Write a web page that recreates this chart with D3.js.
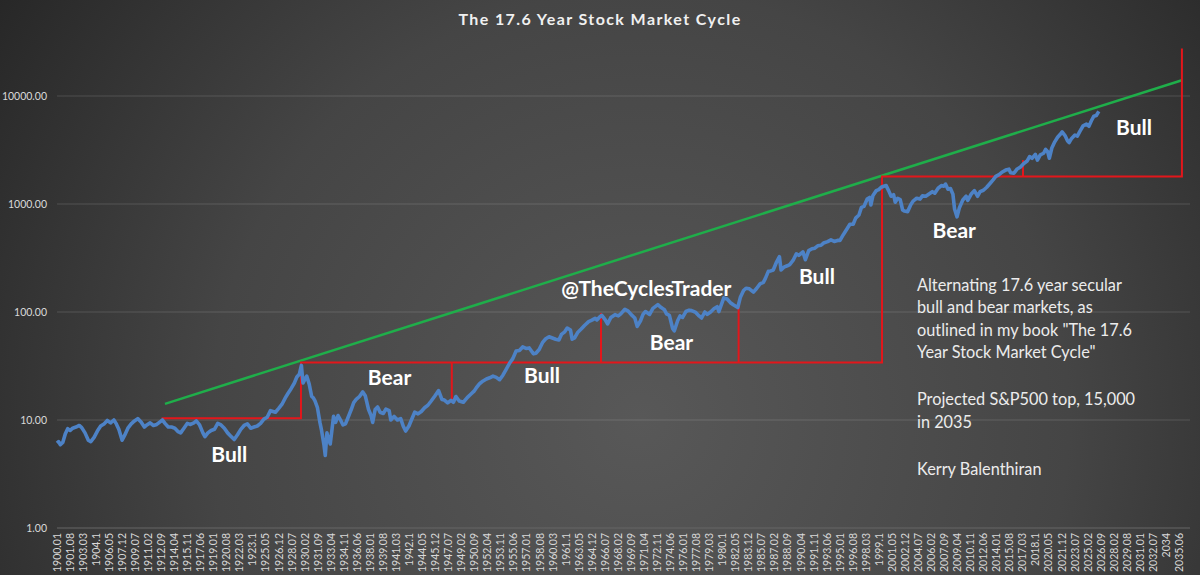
<!DOCTYPE html>
<html>
<head>
  <meta charset="utf-8">
  <script src="https://d3js.org/d3.v7.min.js"></script>
  <style>
    body { margin: 0; background: #333; }
    svg { display: block; font-family: Lato, "Open Sans", sans-serif; }
    .tick-label { fill: #d9d9d9; font-size: 10.5px; }
    .phase { fill: #ffffff; font-weight: bold; font-size: 21px; }
    .blurb { fill: #ececec; font-size: 16.3px; }
  </style>
</head>
<body>
<script>
  // category labels of the x axis (every 19th month, as Excel shows them)
  var xLabels = ["1900.01","1901.08","1903.03","1904.1","1906.05","1907.12","1909.07","1911.02","1912.09","1914.04",
    "1915.11","1917.06","1919.01","1920.08","1922.03","1923.1","1925.05","1926.12","1928.07","1930.02",
    "1931.09","1933.04","1934.11","1936.06","1938.01","1939.08","1941.03","1942.1","1944.05","1945.12",
    "1947.07","1949.02","1950.09","1952.04","1953.11","1955.06","1957.01","1958.08","1960.03","1961.1",
    "1963.05","1964.12","1966.07","1968.02","1969.09","1971.04","1972.11","1974.06","1976.01","1977.08",
    "1979.03","1980.1","1982.05","1983.12","1985.07","1987.02","1988.09","1990.04","1991.11","1993.06",
    "1995.01","1996.08","1998.03","1999.1","2001.05","2002.12","2004.07","2006.02","2007.09","2009.04",
    "2010.11","2012.06","2014.01","2015.08","2017.03","2018.1","2020.05","2021.12","2023.07","2025.02",
    "2026.09","2028.02","2029.08","2031.01","2032.07","2034","2035.06"];

  var yTicks = [1, 10, 100, 1000, 10000];

  // S&P 500 (log scale), [decimal year, value]
  var spx = [
    [1900.0,6.1],[1900.2,6.3],[1900.4,5.9],[1900.7,6.2],[1901.0,7.4],[1901.3,8.3],[1901.6,8.0],[1901.9,8.4],
    [1902.3,8.6],[1902.7,8.9],[1903.0,8.5],[1903.4,7.6],[1903.8,6.5],[1904.1,6.3],[1904.5,6.9],[1904.9,7.9],
    [1905.3,8.8],[1905.7,9.2],[1906.1,9.9],[1906.5,9.4],[1906.9,10.0],[1907.2,9.2],[1907.5,8.2],[1907.9,6.5],
    [1908.2,7.2],[1908.6,8.4],[1909.0,9.2],[1909.4,9.8],[1909.8,10.3],[1910.2,9.6],[1910.6,8.6],[1910.9,9.0],
    [1911.3,9.4],[1911.7,8.9],[1912.1,9.1],[1912.5,9.6],[1912.8,10.0],[1913.1,9.3],[1913.5,8.6],[1913.9,8.6],
    [1914.3,8.4],[1914.7,7.8],[1915.0,7.6],[1915.4,8.4],[1915.8,9.3],[1916.2,9.1],[1916.6,9.4],[1916.9,9.8],
    [1917.3,9.0],[1917.7,7.6],[1917.95,7.0],[1918.3,7.6],[1918.7,8.0],[1919.1,8.2],[1919.5,9.3],[1919.9,9.0],
    [1920.3,8.4],[1920.7,7.6],[1921.0,7.2],[1921.5,6.6],[1921.9,7.3],[1922.3,8.2],[1922.7,8.9],[1923.1,9.2],
    [1923.5,8.4],[1923.9,8.6],[1924.3,8.8],[1924.7,9.3],[1925.1,10.2],[1925.5,10.6],[1925.9,12.2],[1926.2,12.0],
    [1926.5,11.8],[1926.9,12.8],[1927.3,14.0],[1927.7,16.0],[1928.0,17.5],[1928.4,19.5],[1928.8,22.0],[1929.1,25.0],
    [1929.4,26.5],[1929.65,32.0],[1929.85,22.0],[1930.1,24.0],[1930.3,25.5],[1930.6,21.5],[1930.9,16.5],[1931.1,16.0],
    [1931.3,15.0],[1931.6,13.0],[1931.9,9.5],[1932.1,8.0],[1932.4,5.8],[1932.55,4.7],[1932.75,7.6],[1932.95,6.6],
    [1933.15,6.0],[1933.35,8.0],[1933.55,10.8],[1933.8,9.5],[1934.1,11.0],[1934.4,10.0],[1934.7,9.0],[1935.0,9.2],
    [1935.3,10.5],[1935.7,12.5],[1936.0,14.5],[1936.3,15.5],[1936.7,16.5],[1937.1,18.2],[1937.4,16.8],[1937.8,12.5],
    [1938.1,11.0],[1938.3,9.5],[1938.6,12.5],[1938.9,13.2],[1939.2,11.8],[1939.6,11.5],[1939.9,12.6],[1940.3,12.2],
    [1940.5,10.0],[1940.9,10.8],[1941.3,10.0],[1941.7,10.3],[1942.0,8.8],[1942.3,7.9],[1942.7,8.8],[1943.0,10.0],
    [1943.4,11.8],[1943.8,11.4],[1944.2,12.0],[1944.6,13.0],[1945.0,13.7],[1945.4,15.0],[1945.8,16.5],[1946.3,18.7],
    [1946.7,15.5],[1947.0,15.3],[1947.4,14.4],[1947.8,15.2],[1948.1,14.6],[1948.4,16.5],[1948.8,15.0],[1949.3,14.6],
    [1949.8,16.2],[1950.2,17.3],[1950.6,18.5],[1950.9,20.0],[1951.3,21.8],[1951.7,23.0],[1952.1,24.0],[1952.5,24.6],
    [1952.9,25.5],[1953.3,24.8],[1953.7,23.6],[1954.1,26.0],[1954.5,29.5],[1954.9,33.5],[1955.3,37.0],[1955.7,43.5],
    [1956.1,44.0],[1956.5,47.5],[1956.9,46.0],[1957.3,46.5],[1957.8,41.0],[1958.1,41.5],[1958.5,45.0],[1958.9,52.0],
    [1959.3,56.5],[1959.7,59.0],[1960.1,57.5],[1960.5,56.0],[1960.9,55.0],[1961.2,62.0],[1961.6,65.5],[1961.9,71.0],
    [1962.3,68.0],[1962.5,56.0],[1962.8,57.5],[1963.2,65.0],[1963.6,69.5],[1964.0,75.0],[1964.5,81.5],[1964.9,84.0],
    [1965.3,87.5],[1965.5,84.5],[1965.9,91.0],[1966.1,93.0],[1966.5,85.0],[1966.8,77.5],[1967.2,89.0],[1967.7,94.5],
    [1968.1,92.0],[1968.4,96.0],[1968.9,106.0],[1969.3,102.0],[1969.7,94.0],[1970.1,88.0],[1970.4,73.5],[1970.8,83.0],
    [1971.1,95.0],[1971.4,101.0],[1971.9,95.0],[1972.3,108.0],[1972.9,117.0],[1973.3,110.0],[1973.7,105.0],[1973.95,96.0],
    [1974.3,93.0],[1974.7,70.0],[1974.9,67.0],[1975.3,83.0],[1975.6,92.0],[1975.9,89.0],[1976.3,101.0],[1976.7,104.0],
    [1977.0,103.0],[1977.5,99.0],[1977.9,92.0],[1978.2,88.0],[1978.6,100.0],[1978.9,95.0],[1979.3,100.0],[1979.7,107.0],
    [1980.1,112.0],[1980.3,101.0],[1980.9,135.0],[1981.3,132.0],[1981.7,122.0],[1982.1,116.0],[1982.6,110.0],[1982.9,136.0],
    [1983.3,158.0],[1983.6,166.0],[1984.0,164.0],[1984.5,153.0],[1984.9,166.0],[1985.3,182.0],[1985.7,188.0],[1985.95,205.0],
    [1986.3,238.0],[1986.6,240.0],[1986.9,245.0],[1987.3,290.0],[1987.65,325.0],[1987.85,245.0],[1988.2,260.0],[1988.6,268.0],
    [1988.9,275.0],[1989.3,300.0],[1989.7,345.0],[1990.0,335.0],[1990.5,360.0],[1990.8,305.0],[1991.2,370.0],[1991.6,385.0],
    [1991.95,390.0],[1992.3,410.0],[1992.7,415.0],[1993.0,435.0],[1993.5,448.0],[1993.9,465.0],[1994.3,450.0],[1994.7,460.0],
    [1995.0,460.0],[1995.4,520.0],[1995.8,580.0],[1996.2,650.0],[1996.6,650.0],[1996.9,740.0],[1997.3,790.0],[1997.6,930.0],
    [1997.9,950.0],[1998.3,1110.0],[1998.6,1150.0],[1998.75,980.0],[1999.0,1200.0],[1999.4,1330.0],[1999.7,1360.0],[2000.0,1430.0],
    [2000.3,1460.0],[2000.6,1480.0],[2000.9,1330.0],[2001.2,1180.0],[2001.5,1220.0],[2001.7,1040.0],[2002.0,1130.0],[2002.3,1100.0],
    [2002.6,880.0],[2002.8,860.0],[2003.2,850.0],[2003.6,990.0],[2003.9,1070.0],[2004.3,1130.0],[2004.7,1110.0],[2005.0,1190.0],
    [2005.4,1180.0],[2005.8,1240.0],[2006.2,1300.0],[2006.5,1260.0],[2006.9,1400.0],[2007.3,1480.0],[2007.6,1460.0],[2007.8,1530.0],
    [2008.1,1370.0],[2008.4,1390.0],[2008.7,1230.0],[2008.9,900.0],[2009.2,760.0],[2009.5,930.0],[2009.9,1090.0],[2010.3,1180.0],
    [2010.5,1080.0],[2010.9,1230.0],[2011.3,1330.0],[2011.7,1180.0],[2012.0,1300.0],[2012.4,1340.0],[2012.8,1430.0],[2013.2,1550.0],
    [2013.6,1680.0],[2013.9,1800.0],[2014.3,1870.0],[2014.7,1980.0],[2015.1,2060.0],[2015.5,2100.0],[2015.7,1950.0],[2016.1,1930.0],
    [2016.5,2110.0],[2016.9,2200.0],[2017.3,2370.0],[2017.7,2500.0],[2018.0,2750.0],[2018.3,2650.0],[2018.7,2880.0],[2018.95,2550.0],
    [2019.3,2850.0],[2019.7,2950.0],[2019.95,3200.0],[2020.2,3050.0],[2020.4,2650.0],[2020.7,3300.0],[2021.0,3700.0],[2021.4,4150.0],
    [2021.7,4400.0],[2021.95,4650.0],[2022.3,4300.0],[2022.6,3850.0],[2022.8,3700.0],[2023.1,4050.0],[2023.5,4350.0],[2023.8,4250.0],
    [2024.1,4700.0],[2024.5,5300.0],[2024.9,5500.0],[2025.2,5250.0],[2025.5,5900.0],[2025.8,6500.0],[2026.1,6600.0],[2026.4,7200.0]
  ];

  // green trend line (projected top 15,000 in 2035)
  var trend = [[1913.1, 14.1], [2035.7, 14000]];

  // red cycle boxes: one stepped line and the short dividers
  var cycleSteps = [[1912.7, 10.4], [1929.6, 10.4], [1929.6, 34], [2000.1, 34],
                    [2000.1, 1800], [2035.7, 1800], [2035.7, 27500]];
  var cycleDividers = [
    [[1947.9, 34], [1947.9, 14.4]],
    [[1966.0, 34], [1966.0, 98]],
    [[1982.7, 34], [1982.7, 116]],
    [[2017.2, 1800], [2017.2, 2550]]
  ];

  var phaseNames = ["Bull", "Bear", "Bull", "@TheCyclesTrader", "Bear", "Bull", "Bear", "Bull"];
  var phaseYears = [1920.9, 1940.35, 1958.85, 1971.5, 1974.55, 1992.2, 2008.86, 2030.33];
  var phaseValues = [4.8, 24.5, 25.5, 163, 51.6, 211, 562, 5050];

  var blurb = ["Alternating 17.6 year secular", "bull and bear markets, as",
    "outlined in my book \"The 17.6", "Year Stock Market Cycle\"", "",
    "Projected S&P500 top, 15,000", "in 2035", "", "Kerry Balenthiran"];

  var width = 1200, height = 575;

  var svg = d3.select("body").append("svg")
      .attr("width", width)
      .attr("height", height);

  var defs = svg.append("defs");
  var grad = defs.append("radialGradient")
      .attr("id", "bg")
      .attr("gradientUnits", "userSpaceOnUse")
      .attr("cx", 640).attr("cy", 420).attr("r", 780);
  grad.append("stop").attr("offset", "0").attr("stop-color", "#585858");
  grad.append("stop").attr("offset", "0.55").attr("stop-color", "#454545");
  grad.append("stop").attr("offset", "1").attr("stop-color", "#262626");

  svg.append("rect").attr("width", width).attr("height", height).attr("fill", "url(#bg)");

  // category axis: each label sits one step apart, time runs piecewise between labels
  function labelYear(s) {
    var p = s.split(".");
    var m = p[1] ? (p[1].length === 1 ? +p[1] * 10 : +p[1]) : 1;
    return +p[0] + (m - 1) / 12;
  }
  var labelYears = xLabels.map(labelYear);
  var x0 = 57, step = 13.05, plotRight = 1190;
  var x = d3.scaleLinear()
      .domain(labelYears)
      .range(labelYears.map(function(d, i) { return x0 + i * step; }));

  var y = d3.scaleLog().domain([1, 10000]).range([528, 96]);

  // gridlines
  svg.append("g").selectAll("line")
      .data(yTicks)
      .enter().append("line")
      .attr("x1", x0).attr("x2", plotRight)
      .attr("y1", function(d) { return y(d); })
      .attr("y2", function(d) { return y(d); })
      .attr("stroke", function(d) { return d === 1 ? "#666" : "rgba(255,255,255,0.14)"; })
      .attr("stroke-width", 1);

  // y labels
  svg.append("g").selectAll("text")
      .data(yTicks)
      .enter().append("text")
      .attr("class", "tick-label")
      .attr("x", 47)
      .attr("y", function(d) { return y(d); })
      .attr("dy", "0.35em")
      .attr("text-anchor", "end")
      .text(d3.format(".2f"));

  // x labels, rotated
  svg.append("g").selectAll("text")
      .data(xLabels)
      .enter().append("text")
      .attr("class", "tick-label")
      .attr("text-anchor", "end")
      .attr("transform", function(d, i) {
        return "translate(" + x(labelYears[i]) + ",533) rotate(-90)";
      })
      .attr("dy", "0.35em")
      .text(function(d) { return d; });

  var line = d3.line()
      .x(function(d) { return x(d[0]); })
      .y(function(d) { return y(d[1]); });

  svg.append("path")
      .datum(trend)
      .attr("d", line)
      .attr("fill", "none")
      .attr("stroke", "#1fae4a")
      .attr("stroke-width", 2.5);

  svg.append("path")
      .datum(cycleSteps)
      .attr("d", line)
      .attr("fill", "none")
      .attr("stroke", "#e3161b")
      .attr("stroke-width", 2);

  svg.append("g").selectAll("path")
      .data(cycleDividers)
      .enter().append("path")
      .attr("d", line)
      .attr("fill", "none")
      .attr("stroke", "#e3161b")
      .attr("stroke-width", 2);

  svg.append("path")
      .datum(spx)
      .attr("d", line)
      .attr("fill", "none")
      .attr("stroke", "#4d82c6")
      .attr("stroke-width", 3.6)
      .attr("stroke-linejoin", "round");

  // phase labels
  svg.append("g").selectAll("text")
      .data(phaseNames)
      .enter().append("text")
      .attr("class", "phase")
      .attr("text-anchor", "middle")
      .attr("x", function(d, i) { return x(phaseYears[i]); })
      .attr("y", function(d, i) { return y(phaseValues[i]); })
      .attr("dy", "0.35em")
      .text(function(d) { return d; });

  // note block on the right
  var note = svg.append("text").attr("class", "blurb");
  var by = 291, blanks = 0;
  blurb.forEach(function(s, i) {
    if (s === "") { blanks++; return; }
    note.append("tspan")
        .attr("x", 917)
        .attr("y", by + i * 22.4 + blanks * 2.2)
        .text(s);
  });

  svg.append("text")
      .attr("x", 600)
      .attr("y", 25)
      .attr("text-anchor", "middle")
      .style("font-size", "16px")
      .style("font-weight", "bold")
      .style("letter-spacing", "1.4px")
      .style("fill", "#f0f0f0")
      .text("The 17.6 Year Stock Market Cycle");
</script>
</body>
</html>
